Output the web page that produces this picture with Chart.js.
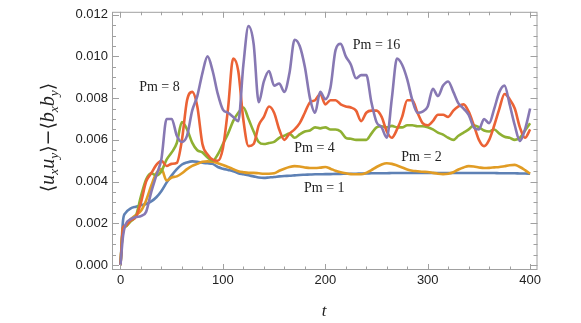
<!DOCTYPE html>
<html>
<head>
<meta charset="utf-8">
<script src="https://cdn.jsdelivr.net/npm/chart.js@4.4.0/dist/chart.umd.min.js"></script>
<style>
  html, body { margin: 0; padding: 0; background: #fff; }
</style>
</head>
<body>
<canvas id="chart" width="581" height="323"></canvas>
<script>
// time axis samples
const tValues = [0, 2.5, 5, 10, 15, 20, 25, 30, 35, 40, 45, 50, 55, 60, 65, 70, 75, 80, 85, 90, 95, 100,
  105, 110, 115, 120, 125, 130, 135, 140, 145, 150, 155, 160, 165, 170, 175, 180, 185, 190, 195, 200,
  205, 210, 215, 220, 225, 230, 235, 240, 245, 250, 255, 260, 265, 270, 275, 280, 285, 290, 295, 300,
  305, 310, 315, 320, 325, 330, 335, 340, 345, 350, 355, 360, 365, 370, 375, 380, 385, 390, 395, 400];

// series values, in units of 1e-3
const pm1 = [0, 2.15, 2.5, 2.72, 2.8, 2.87, 2.93, 3.05, 3.25, 3.55, 3.95, 4.3, 4.6, 4.82, 4.92, 4.97, 4.95, 4.9, 4.88, 4.85, 4.7,
  4.62, 4.56, 4.5, 4.4, 4.35, 4.3, 4.25, 4.2, 4.18, 4.2, 4.22, 4.25, 4.27, 4.28, 4.3, 4.32, 4.33, 4.34, 4.35, 4.35,
  4.36, 4.36, 4.37, 4.37, 4.38, 4.38, 4.38, 4.39, 4.39, 4.4, 4.4, 4.4, 4.4, 4.41, 4.41, 4.41, 4.41, 4.41, 4.41, 4.41,
  4.41, 4.41, 4.41, 4.41, 4.41, 4.41, 4.41, 4.41, 4.41, 4.41, 4.41, 4.41, 4.41, 4.41, 4.4, 4.4, 4.4, 4.4, 4.39, 4.39, 4.38];
const pm2 = [0, 1.8, 1.85, 2.2, 2.4, 2.6, 3.1, 3.8, 4.4, 4.6, 4.05, 4.2, 4.25, 4.4, 4.6, 4.75, 4.85, 4.95, 4.97, 4.95, 4.88,
  4.8, 4.7, 4.6, 4.5, 4.45, 4.42, 4.42, 4.4, 4.38, 4.38, 4.4, 4.52, 4.62, 4.7, 4.74, 4.72, 4.68, 4.65, 4.65, 4.67,
  4.7, 4.62, 4.52, 4.45, 4.4, 4.36, 4.35, 4.35, 4.42, 4.55, 4.7, 4.82, 4.88, 4.85, 4.77, 4.68, 4.58, 4.52, 4.5, 4.47,
  4.46, 4.42, 4.38, 4.36, 4.38, 4.45, 4.58, 4.68, 4.74, 4.72, 4.68, 4.65, 4.66, 4.68, 4.7, 4.74, 4.78, 4.8, 4.7, 4.55, 4.38];
const pm4 = [0, 1.75, 1.85, 2.1, 2.35, 3.3, 4.1, 4.4, 4.3, 4.5, 5.05, 5.4, 5.85, 6.85, 6.5, 5.87, 5.5, 5.4, 5.15, 5.0, 5.3,
  5.8, 6.3, 6.9, 7.3, 7.55, 7.0, 6.4, 5.9, 5.8, 5.85, 5.9, 6.1, 6.2, 6.3, 6.1, 6.26, 6.4, 6.45, 6.6, 6.55,
  6.6, 6.5, 6.5, 6.4, 6.1, 6.05, 6.0, 6.0, 6.0, 6.3, 6.6, 6.65, 6.6, 6.67, 6.6, 6.6, 6.7, 6.7, 6.65, 6.65,
  6.6, 6.5, 6.35, 6.25, 6.1, 6.0, 6.2, 6.35, 6.5, 6.7, 6.6, 6.45, 6.4, 6.5, 6.3, 6.15, 6.1, 6.0, 6.1, 6.45, 6.8];
const pm8 = [0, 1.8, 1.9, 2.15, 2.3, 3.0, 4.0, 4.4, 4.8, 5.0, 4.75, 4.85, 4.9, 6.0, 7.9, 8.3, 7.6, 5.8, 5.3, 5.05, 5.0,
  5.6, 7.5, 9.9, 9.3, 6.95, 5.7, 5.8, 6.7, 7.1, 7.6, 7.3, 6.5, 6.0, 6.3, 6.5, 6.8, 7.3, 7.8, 7.9, 8.2,
  7.7, 7.9, 7.9, 7.7, 7.6, 7.55, 7.4, 6.9, 7.3, 7.4, 7.4, 7.1, 6.4, 6.1, 6.5, 7.1, 7.9, 7.9, 7.3, 6.8,
  6.7, 6.9, 7.2, 7.2, 7.1, 7.4, 7.6, 7.7, 7.35, 6.7, 6.0, 5.7, 6.0, 6.7, 7.5, 8.2, 7.95, 7.5, 6.6, 6.1, 6.5];
const pm16 = [0, 1.4, 1.95, 2.2, 2.3, 2.35, 2.55, 3.5, 4.3, 5.1, 7.0, 7.0, 6.2, 5.9, 6.2, 7.4, 8.1, 9.2, 10.0, 9.3, 8.2,
  7.45, 7.3, 7.1, 6.9, 9.6, 11.45, 10.6, 7.8, 8.8, 9.3, 8.6, 8.7, 8.3, 9.2, 10.8, 10.5, 9.5, 8.0, 7.3, 8.3,
  7.95, 8.5, 10.3, 10.6, 10.0, 9.6, 8.95, 9.1, 9.1, 7.8, 6.85, 6.6, 6.1, 8.0, 9.9, 9.6, 8.9, 7.9, 7.3, 7.35,
  7.6, 8.45, 8.1, 8.6, 8.8, 8.3, 7.75, 7.5, 7.2, 6.6, 6.5, 7.0, 6.8, 7.5, 8.3, 8.6, 7.7, 6.7, 5.95, 6.5, 7.5];

const seriesNames = ['Pm = 1', 'Pm = 2', 'Pm = 4', 'Pm = 8', 'Pm = 16'];
const seriesValues = [pm1, pm2, pm4, pm8, pm16];
const seriesColors = ['#5E81B5', '#E19C24', '#8FB032', '#EB6235', '#8778B3'];

// tick labels
const xTicks = [0, 100, 200, 300, 400];
const yTicks = [0, 0.002, 0.004, 0.006, 0.008, 0.010, 0.012];

// where the Pm labels sit, in data coordinates (t, value)
const labelAnchors = [[199, 0.00368], [294, 0.00516], [189.5, 0.00559], [38, 0.00854], [250, 0.01053]];

const frameColor = '#a0a0a0';
const textColor = '#222';

const framePlugin = {
  id: 'frame',
  afterDatasetsDraw(chart) {
    const { ctx, chartArea: a, scales: { x, y } } = chart;
    ctx.save();
    ctx.strokeStyle = frameColor;
    ctx.lineWidth = 1;
    ctx.strokeRect(a.left + 0.5, a.top + 0.5, a.right - a.left - 1, a.bottom - a.top - 1);
    ctx.beginPath();
    // x ticks every 20, long ones every 100
    for (let v = 0; v <= 400; v += 20) {
      const px = Math.round(x.getPixelForValue(v)) + 0.5;
      const len = v % 100 === 0 ? 6 : 3.5;
      ctx.moveTo(px, a.bottom); ctx.lineTo(px, a.bottom - len);
      ctx.moveTo(px, a.top); ctx.lineTo(px, a.top + len);
    }
    // y ticks every 0.0005, long ones every 0.002
    for (let k = 0; k <= 24; k++) {
      const py = Math.round(y.getPixelForValue(k * 0.0005)) + 0.5;
      const len = k % 4 === 0 ? 7 : 4;
      ctx.moveTo(a.left, py); ctx.lineTo(a.left + len, py);
      ctx.moveTo(a.right, py); ctx.lineTo(a.right - len, py);
    }
    ctx.stroke();
    ctx.restore();
  },
  afterDraw(chart) {
    const { ctx, scales: { x, y } } = chart;
    ctx.save();
    ctx.fillStyle = textColor;

    // series labels
    ctx.font = '14px "Liberation Serif"';
    ctx.textAlign = 'center';
    ctx.textBaseline = 'middle';
    labelAnchors.forEach(([t, v], i) => {
      ctx.fillText(seriesNames[i], x.getPixelForValue(t), y.getPixelForValue(v));
    });

    // x title
    ctx.font = 'italic 17px "Liberation Serif"';
    ctx.fillText('t', 324, 312);

    // y title, drawn in pieces for the subscripts
    const parts = [
      ['\u27E8', 'n'], ['u', 'i'], ['x', 's'], ['u', 'i'], ['y', 's'], ['\u27E9', 'n'], ['\u2212', 'n'],
      ['\u27E8', 'n'], ['b', 'i'], ['x', 's'], ['b', 'i'], ['y', 's'], ['\u27E9', 'n']
    ];
    const fonts = {
      n: '19px "DejaVu Serif", "Liberation Serif"',
      i: 'italic 20px "Liberation Serif"',
      s: 'italic 13.5px "Liberation Serif"'
    };
    let total = 0;
    parts.forEach(p => { ctx.font = fonts[p[1]]; total += ctx.measureText(p[0]).width; });
    ctx.translate(54, 137.5);
    ctx.rotate(-Math.PI / 2);
    ctx.textAlign = 'left';
    ctx.textBaseline = 'alphabetic';
    let cx = -total / 2;
    parts.forEach(([s, f]) => {
      ctx.font = fonts[f];
      ctx.fillText(s, cx, f === 's' ? 4 : 0);
      cx += ctx.measureText(s).width;
    });
    ctx.restore();
  }
};

new Chart(document.getElementById('chart'), {
  type: 'line',
  data: {
    datasets: seriesValues.map((vals, i) => ({
      label: seriesNames[i],
      data: vals.map((v, j) => ({ x: tValues[j], y: v * 1e-3 })),
      borderColor: seriesColors[i],
      borderWidth: 2.6,
      pointRadius: 0,
      fill: false,
      cubicInterpolationMode: 'monotone',
      order: 5 - i
    }))
  },
  options: {
    responsive: false,
    animation: false,
    layout: { padding: { left: 0, right: 43.5, top: 6.5, bottom: 0 } },
    plugins: { legend: { display: false }, tooltip: { enabled: false } },
    scales: {
      x: {
        type: 'linear',
        min: -8.3,
        max: 407.2,
        grid: { display: false, drawTicks: false },
        border: { display: false },
        ticks: {
          color: textColor,
          font: { family: '"Liberation Sans"', size: 13 },
          padding: 3,
          maxRotation: 0,
          autoSkip: false
        },
        afterBuildTicks: s => { s.ticks = xTicks.map(v => ({ value: v })); },
        afterFit: s => { s.height = 53; }
      },
      y: {
        min: -0.000235,
        max: 0.012136,
        grid: { display: false, drawTicks: false },
        border: { display: false },
        ticks: {
          color: textColor,
          font: { family: '"Liberation Sans"', size: 13 },
          padding: 4,
          autoSkip: false,
          callback: v => v.toFixed(3)
        },
        afterBuildTicks: s => { s.ticks = yTicks.map(v => ({ value: v })); },
        afterFit: s => { s.width = 112; }
      }
    }
  },
  plugins: [framePlugin]
});
</script>
</body>
</html>
